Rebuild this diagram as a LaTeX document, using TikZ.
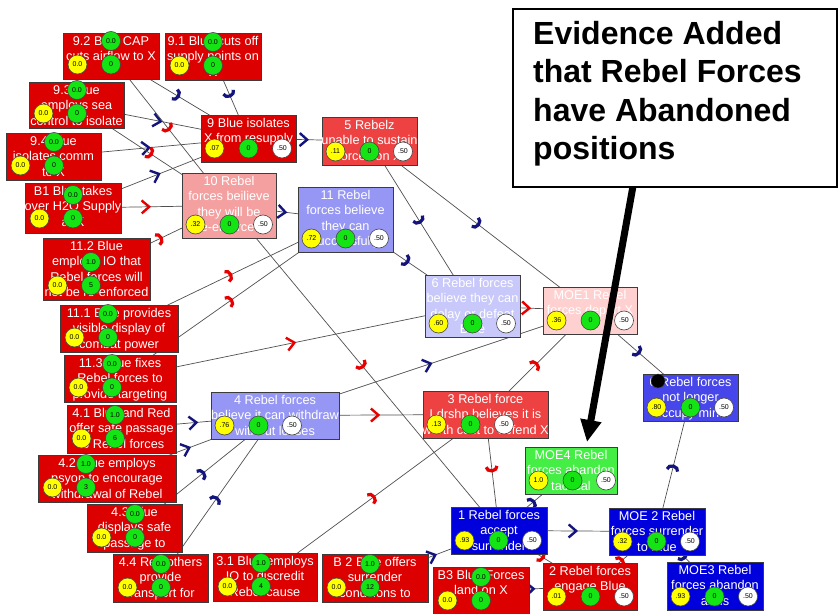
\documentclass[tikz,border=0pt]{standalone}
\usepackage{fontspec}
\setmainfont{Liberation Sans}
\usetikzlibrary{arrows.meta,decorations.markings}
\pgfdeclarelayer{background}
\pgfsetlayers{background,main}

\definecolor{boxred}{RGB}{221,0,0}
\definecolor{boxredlt}{RGB}{238,66,66}
\definecolor{boxpink}{RGB}{245,160,160}
\definecolor{boxlpink}{RGB}{255,208,208}
\definecolor{boxperi}{RGB}{150,150,245}
\definecolor{boxlav}{RGB}{200,200,250}
\definecolor{boxblue}{RGB}{0,0,220}
\definecolor{boxmblue}{RGB}{70,70,235}
\definecolor{boxgreen}{RGB}{68,238,68}
\definecolor{boxline}{RGB}{60,60,60}
\definecolor{dotyellow}{RGB}{255,255,0}
\definecolor{dotgreen}{RGB}{20,228,20}
\definecolor{dotline}{RGB}{70,70,70}
\definecolor{linkgray}{RGB}{80,80,80}
\definecolor{mnavy}{RGB}{20,20,125}
\definecolor{mred}{RGB}{230,0,0}

\tikzset{
  nbox/.style={draw=boxline, line width=0.9pt, inner sep=0pt, outer sep=0pt, anchor=north west},
  boxtext/.style={text=white, align=center, inner sep=0pt, anchor=north,
    font=\fontsize{12.7}{15.3}\selectfont},
  valdot/.style={circle, draw=dotline, line width=0.6pt, minimum size=19pt, inner sep=0pt,
    font=\fontsize{7}{7}\selectfont},
  ydot/.style={valdot, fill=dotyellow},
  gdot/.style={valdot, fill=dotgreen},
  wdot/.style={valdot, fill=white},
  lnk/.style={draw=linkgray, line width=0.7pt},
  chev/.style={lnk, postaction={decorate}, decoration={markings,
    mark=at position 0.5 with {\arrow{Straight Barb[length=7.5pt,width=13pt,line width=2.4pt,color=#1]}}}},
  arcm/.style={lnk, postaction={decorate}, decoration={markings,
    mark=at position 0.5 with {\arrow{Arc Barb[length=6pt,width=14pt,line width=3.2pt,color=#1]}}}},
}

% action box: name, left, top, width, height, label, upper value, lower value
\newcommand\actnode[8]{%
  \node[nbox, fill=boxred, minimum width=#4pt, minimum height=#5pt] (#1) at (#2,#3) {};
  \begin{scope}
    \clip (#1.north west) rectangle (#1.south east);
    \node[boxtext] (#1-txt) at ([yshift=-3pt]#1.north) {#6};
  \end{scope}
  \node[gdot] (#1-g1) at (#2+48,#3+#5-38) {#7};
  \node[ydot] (#1-y) at (#2+14.5,#3+#5-14.5) {0.0};
  \node[gdot] (#1-g2) at (#2+48,#3+#5-14.5) {#8};
}

% state box: name, left, top, width, height, fill, label, belief value
\newcommand\statenode[8]{%
  \node[nbox, fill=#6, minimum width=#4pt, minimum height=#5pt] (#1) at (#2,#3) {};
  \begin{scope}
    \clip (#1.north west) rectangle (#1.south east);
    \node[boxtext] (#1-txt) at ([yshift=-3pt]#1.north) {#7};
  \end{scope}
  \node[ydot] (#1-y) at (#2+13.5,#3+#5-13.5) {#8};
  \node[gdot] (#1-g) at (#2+47.5,#3+#5-13.5) {0};
  \node[wdot] (#1-w) at (#2+81,#3+#5-13.5) {.50};
}

\begin{document}
\begin{tikzpicture}[x=1pt,y=-1pt]
\useasboundingbox (0,0) rectangle (840,613);
\begin{pgfonlayer}{background}
  \fill[white] (0,0) rectangle (840,613);
\end{pgfonlayer}

% actions on the left and bottom
\actnode{n92}{63}{33}{96}{46}{9.2 Blue CAP\\cuts airflow to X}{0.0}{0}
\actnode{n91}{165}{33}{96}{47}{9.1 Blue cuts off\\supply points on\\X}{0.0}{0}
\actnode{n93}{29}{82}{95}{46}{9.3 Blue\\employs sea\\control to isolate}{0.0}{0}
\actnode{n94}{6}{133}{95}{47}{9.4 Blue\\isolates comm\\to X}{0.0}{0}
\actnode{nB1}{25}{183}{96}{50}{B1 Blue takes\\over H2O Supply\\at X}{0.0}{0}
\actnode{n112}{43}{238}{107}{62}{11.2 Blue\\employs IO that\\Rebel forces will\\not be re-enforced}{1.0}{5}
\actnode{n111}{60}{305}{118}{47}{11.1 Blue provides\\visible display of\\combat power}{0.0}{0}
\actnode{n113}{64}{355}{112}{47}{11.3 Blue fixes\\Rebel forces to\\provide targeting}{0.0}{0}
\actnode{n41}{67}{405}{109}{48}{4.1 Blue and Red\\offer safe passage\\to Rebel forces}{1.0}{6}
\actnode{n42}{38}{455}{138}{47}{4.2 Blue employs\\psyop to encourage\\withdrawal of Rebel}{1.0}{3}
\actnode{n43}{87}{504}{95}{48}{4.3 Blue\\displays safe\\passage to}{0.0}{0}
\actnode{n44}{113}{554}{95}{48}{4.4 Red others\\provide\\transport for}{0.0}{0}
\actnode{n31}{213}{553}{104}{48}{3.1 Blue employs\\IO to discredit\\Rebel cause}{1.0}{4}
\actnode{nB2}{322}{554}{106}{48}{B 2 Blue offers\\surrender\\conditions to}{1.0}{12}
\actnode{nB3}{433}{567}{96}{48}{B3 Blue Forces\\land on X}{0.0}{0}

% beliefs and effects
\statenode{n9}{201}{115}{95}{47}{boxred}{9 Blue isolates\\X from resupply}{.07}
\statenode{n5}{322}{117}{95}{48}{boxredlt}{5 Rebelz\\unable to sustain\\forces on X}{.11}
\statenode{n10}{182}{173}{94}{65}{boxpink}{10 Rebel\\forces beilieve\\they will be\\re-enforced}{.32}
\statenode{n11}{298}{187}{95}{65}{boxperi}{11 Rebel\\forces believe\\they can\\successfully}{.72}
\statenode{n6}{425}{275}{95}{62}{boxlav}{6 Rebel forces\\believe they can\\delay or defeat\\Blue}{.60}
\statenode{nM1}{543}{287}{94}{47}{boxlpink}{MOE1 Rebel\\forces depart X}{.36}
\statenode{n4}{211}{392}{128}{47}{boxperi}{4 Rebel forces\\believe it can withdraw\\without losses}{.76}
\statenode{n3}{423}{391}{125}{47}{boxredlt}{3 Rebel force\\Ldrshp believes it is\\worth cost to defend X}{.13}
\statenode{nM4}{525}{447}{92}{47}{boxgreen}{MOE4 Rebel\\forces abandon\\tactical}{1.0}
\statenode{n1}{451}{507}{96}{47}{boxblue}{1 Rebel forces\\accept\\surrender}{.93}
\statenode{n2}{543}{563}{94}{47}{boxred}{2 Rebel forces\\engage Blue}{.01}
\statenode{nM2}{609}{508}{96}{47}{boxblue}{MOE 2 Rebel\\forces surrender\\to Blue}{.32}
\statenode{nM3}{667}{562}{96}{48}{boxblue}{MOE3 Rebel\\forces abandon\\arms}{.93}
\statenode{nR}{643}{374}{95}{47}{boxmblue}{0 Rebel forces\\not longer\\occupy mine}{.80}

% evidence marker
\node[circle, fill=black, draw=dotline, line width=0.5pt, minimum size=14pt, inner sep=0pt] (evdot) at (658,381) {};

% influence links, centre to centre, behind the boxes
\begin{pgfonlayer}{background}
  \path[arcm=mnavy] (n92.center) -- (n9.center);
  \path[arcm=mnavy] (n91.center) -- (n9.center);
  \path[chev=mnavy] (n93.center) -- (n9.center);
  \path[chev=mnavy] (n94.center) -- (n9.center);
  \path[chev=mnavy] (nB1.center) -- (n9.center);
  \path[arcm=mred] (n92.center) -- (n10.center);
  \path[arcm=mred] (n93.center) -- (n10.center);
  \path[chev=mred] (nB1.center) -- (n10.center);
  \path[arcm=mred] (n112.center) -- (n10.center);
  \path[chev=mnavy] (n9.center) -- (n5.center);
  \path[chev=mnavy] (n10.center) -- (n11.center);
  \path[arcm=mred] (n10.center) -- (n1.center);
  \path[arcm=mred] (n111.center) -- (n11.center);
  \path[arcm=mred] (n113.center) -- (n11.center);
  \path[chev=mred] (n113.center) -- (n6.center);
  \path[arcm=mnavy] (n5.center) -- (n6.center);
  \path[arcm=mnavy] (n5.center) -- (nM1.center);
  \path[arcm=mnavy] (n11.center) -- (n6.center);
  \path[chev=mred] (n6.center) -- (nM1.center);
  \path[chev=mnavy] (n4.center) -- (nM1.center);
  \path[arcm=mred] (n3.center) -- (nM1.center);
  \path[chev=mred] (n4.center) -- (n3.center);
  \path[chev=mnavy] (n41.center) -- (n4.center);
  \path[chev=mnavy] (n42.center) -- (n4.center);
  \path[arcm=mnavy] (n43.center) -- (n4.center);
  \path[arcm=mnavy] (n44.center) -- (n4.center);
  \path[arcm=mred] (n31.center) -- (n3.center);
  \path[arcm=mred] (n3.center) -- (n1.center);
  \path[chev=mnavy] (nB2.center) -- (n1.center);
  \path[chev=mnavy] (nB3.center) -- (n2.center);
  \path[arcm=mnavy] (n1.center) -- (nM4.center);
  \path[chev=mnavy] (n1.center) -- (nM2.center);
  \path[arcm=mred] (n1.center) -- (n2.center);
  \path[arcm=mred] (n2.center) -- (nM2.center);
  \path[arcm=mnavy] (nM2.center) -- (nR.center);
  \path[arcm=mnavy] (nM2.center) -- (nM3.center);
  \path[arcm=mnavy] (nM1.center) -- (nR.center);
\end{pgfonlayer}

% call-out
\node[draw=black, line width=1.5pt, fill=white, minimum width=324pt, minimum height=178pt,
  anchor=north west, inner sep=0pt] (callout) at (512,8) {};
\node[anchor=north west, align=left, inner sep=0pt,
  font=\bfseries\fontsize{32}{38.5}\selectfont] (callouttext) at (533,21)
  {Evidence Added\\that Rebel Forces\\have Abandoned\\positions};
\coordinate (evtip) at (587,442);
\draw[line width=7pt, -{Triangle[length=22pt,width=20pt]}] ([xshift=-42pt]callout.south) -- (evtip);
\end{tikzpicture}
\end{document}
